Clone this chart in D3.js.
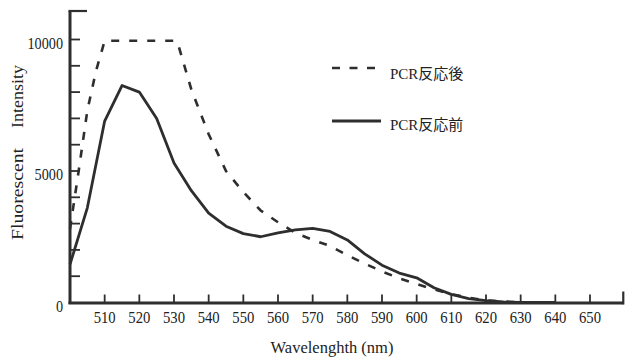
<!DOCTYPE html>
<html><head><meta charset="utf-8">
<script src="https://cdn.jsdelivr.net/npm/d3@7"></script>
<style>
html,body{margin:0;padding:0;background:#fff;}
text{font-family:"Liberation Serif","Noto Sans CJK JP",serif;fill:#222;}
</style></head>
<body><svg id="c" width="625" height="361"></svg>
<script>
// wavelengths (nm) and intensities
const wlBefore = [500,505,510,515,520,525,530,535,540,545,550,555,560,565,570,575,580,585,590,595,600,605,610,615,620,625,630,640];
const before   = [1450,3600,6900,8250,8000,7000,5300,4250,3400,2900,2620,2500,2650,2760,2820,2700,2380,1850,1420,1120,940,560,310,150,70,20,0,0];
const wlAfter  = [500,502.5,505,507.5,510,520,530,531,535,540,545,550,555,560,565,570,575,580,585,590,595,600,605,610,615,620,630,640];
const after    = [2800,5000,7300,8800,9950,9950,9950,9900,8100,6400,5000,4200,3500,3050,2650,2380,2150,1800,1480,1180,920,700,500,320,180,80,0,0];
const xTicks = [510,520,530,540,550,560,570,580,590,600,610,620,630,640,650];
const yLabelTicks = [0,5000,10000];
const yMinorTicks = [1000,2000,3000,4000,5000,6000,7000,8000,9000,10000];
const legendLabels = ["PCR反応後","PCR反応前"];
const yTitleWords = ["Fluorescent","Intensity"];

const svg = d3.select("#c");
const x = d3.scaleLinear().domain([500,650]).range([70,590]);
const y = d3.scaleLinear().domain([0,10000]).range([302.5,39.5]);
const ink = "#2e2e2e";

// data lines
const line = d3.line().x(d=>x(d[0])).y(d=>y(d[1]));
svg.append("path").datum(wlAfter.map((w,i)=>[w,after[i]]))
  .attr("d",line).attr("fill","none").attr("stroke",ink).attr("stroke-width",2.6)
  .attr("stroke-dasharray","8,10");
svg.append("path").datum(wlBefore.map((w,i)=>[w,before[i]]))
  .attr("d",line).attr("fill","none").attr("stroke",ink).attr("stroke-width",2.8)
  .attr("stroke-linejoin","round");

// axes
const x0 = x(500), xEnd = x(659.6), y0 = y(0);
svg.append("line").attr("x1",x0).attr("x2",x0).attr("y1",11).attr("y2",y0+1.5)
  .attr("stroke",ink).attr("stroke-width",3);
svg.append("line").attr("x1",x0-1.5).attr("x2",x0+17).attr("y1",11).attr("y2",11)
  .attr("stroke",ink).attr("stroke-width",2.2);
svg.append("line").attr("x1",x0-1.5).attr("x2",xEnd).attr("y1",y0+0.5).attr("y2",y0+0.5)
  .attr("stroke",ink).attr("stroke-width",3);
svg.append("line").attr("x1",xEnd).attr("x2",xEnd).attr("y1",y0-11).attr("y2",y0+2)
  .attr("stroke",ink).attr("stroke-width",2.2);

// y ticks
svg.selectAll(".yt").data(yMinorTicks).join("line")
  .attr("x1",x0).attr("x2",x0+10).attr("y1",d=>y(d)).attr("y2",d=>y(d))
  .attr("stroke",ink).attr("stroke-width",1.8);
svg.selectAll(".yl").data(yLabelTicks).join("text")
  .attr("x",x0-7).attr("y",d=>y(d)+9).attr("text-anchor","end")
  .attr("font-size",16)
  .attr("textLength",d=>String(d).length*7.1).attr("lengthAdjust","spacingAndGlyphs")
  .text(d=>d);

// x ticks
svg.selectAll(".xt").data(xTicks).join("line")
  .attr("x1",d=>x(d)).attr("x2",d=>x(d)).attr("y1",y0).attr("y2",y0-8)
  .attr("stroke",ink).attr("stroke-width",1.8);
svg.selectAll(".xl").data(xTicks).join("text")
  .attr("x",d=>x(d)).attr("y",323).attr("text-anchor","middle")
  .attr("font-size",16)
  .attr("textLength",22).attr("lengthAdjust","spacingAndGlyphs")
  .text(d=>d);

// titles
svg.append("text").attr("x",332).attr("y",353).attr("text-anchor","middle")
  .attr("font-size",16.5).text("Wavelenghth (nm)");
svg.append("text").attr("transform","translate(23,194) rotate(-90)")
  .attr("text-anchor","middle").attr("font-size",16)
  .attr("textLength",92).attr("lengthAdjust","spacingAndGlyphs")
  .text(yTitleWords[0]);
svg.append("text").attr("transform","translate(23,96.5) rotate(-90)")
  .attr("text-anchor","middle").attr("font-size",16)
  .attr("textLength",63).attr("lengthAdjust","spacingAndGlyphs")
  .text(yTitleWords[1]);

// legend
svg.append("line").attr("x1",332).attr("x2",376).attr("y1",68).attr("y2",68)
  .attr("stroke",ink).attr("stroke-width",2.6).attr("stroke-dasharray","8,9.5");
svg.append("line").attr("x1",332).attr("x2",381).attr("y1",121).attr("y2",121)
  .attr("stroke",ink).attr("stroke-width",2.8);
svg.append("text").attr("x",390).attr("y",78.5).attr("font-size",15).text(legendLabels[0]);
svg.append("text").attr("x",390).attr("y",129.5).attr("font-size",15).text(legendLabels[1]);
</script></body></html>
